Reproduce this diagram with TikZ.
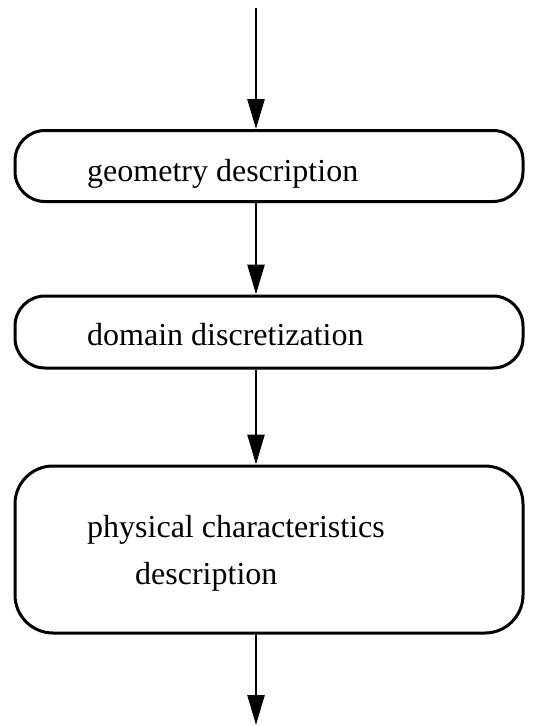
\documentclass[tikz,border=0pt]{standalone}
\usepackage{fontspec}
\setmainfont{Liberation Serif}
\usetikzlibrary{arrows.meta}
\begin{document}
\begin{tikzpicture}[x=1pt,y=-1pt,
  stagebox/.style={draw=black,line width=3pt,rounded corners=30pt,minimum width=508pt,inner sep=0pt},
  lbl/.style={anchor=base west,inner sep=0pt,font=\fontsize{32}{38}\selectfont},
  flow/.style={line width=2.6pt,-{Triangle[length=30pt,width=17pt]}}]
\useasboundingbox (0,0) rectangle (535,726);
\node[stagebox,minimum height=71pt] (b1) at (269,166) {};
\node[stagebox,minimum height=72pt] (b2) at (269,332) {};
\node[stagebox,minimum height=167pt,rounded corners=38pt] (b3) at (269,549.5) {};
\node[lbl] (t1) at (87,181) {geometry description};
\node[lbl] (t2) at (87,345) {domain discretization};
\node[lbl] (t3a) at (87,537) {physical characteristics};
\node[lbl] (t3b) at (135,584) {description};
\coordinate (in) at (256,8);
\coordinate (out) at (256,725);
\draw[flow] (in) -- (in |- b1.north);
\draw[flow] (b1.south -| in) -- (b2.north -| in);
\draw[flow] (b2.south -| in) -- (b3.north -| in);
\draw[flow] (b3.south -| in) -- (out);
\end{tikzpicture}
\end{document}
